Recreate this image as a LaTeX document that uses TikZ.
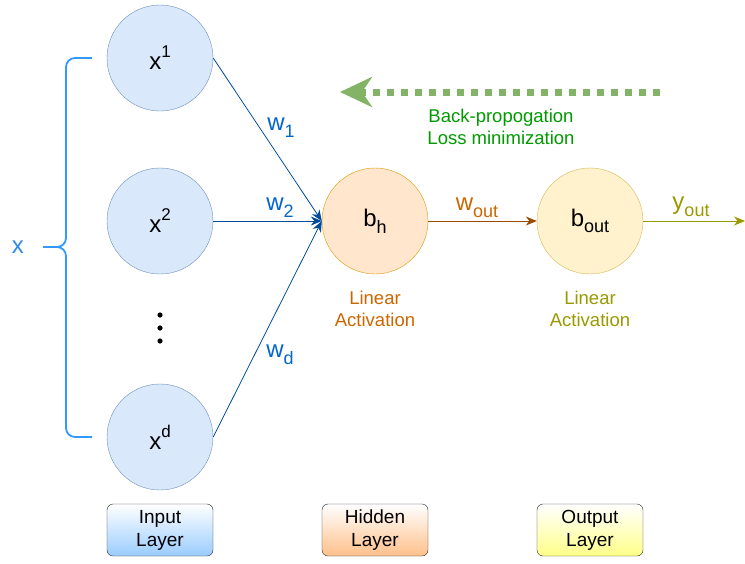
\documentclass[tikz,border=0pt]{standalone}
\usepackage{fontspec}
\setmainfont{Liberation Sans}
\usetikzlibrary{arrows.meta}
\usetikzlibrary{positioning}
\usepackage{xcolor}

\definecolor{inFill}{HTML}{DAE8FC}
\definecolor{inDraw}{HTML}{6C8EBF}
\definecolor{hidFill}{HTML}{FFE6CC}
\definecolor{hidDraw}{HTML}{D79B00}
\definecolor{outFill}{HTML}{FFF2CC}
\definecolor{outDraw}{HTML}{D6B656}
\definecolor{edgeBlue}{HTML}{004C99}
\definecolor{wBlue}{HTML}{0066CC}
\definecolor{braceBlue}{HTML}{3399FF}
\definecolor{hidText}{HTML}{CC6600}
\definecolor{hidEdge}{HTML}{994C00}
\definecolor{outText}{HTML}{999900}
\definecolor{bpGreen}{HTML}{82B366}
\definecolor{bpText}{HTML}{009900}
\definecolor{inBox}{HTML}{99CCFF}
\definecolor{hidBox}{HTML}{FFC08A}
\definecolor{outBox}{HTML}{FFFF88}

% sub- and superscripts at the size the picture uses
\newcommand{\lo}[1]{\raisebox{-0.28em}{\fontsize{18}{20}\selectfont #1}}
\newcommand{\hi}[1]{\raisebox{0.5em}{\fontsize{17}{20}\selectfont #1}}

\tikzset{
  neuron/.style={circle,minimum size=106pt,inner sep=0pt,font=\fontsize{24}{28}\selectfont},
  inneuron/.style={neuron,fill=inFill,draw=inDraw},
  hidneuron/.style={neuron,fill=hidFill,draw=hidDraw},
  outneuron/.style={neuron,fill=outFill,draw=outDraw},
  layerbox/.style={draw=black!85,rounded corners=6pt,minimum width=106pt,minimum height=52pt,
    align=center,font=\fontsize{19}{23}\selectfont},
  wlabel/.style={font=\fontsize{24}{28}\selectfont},
  actlabel/.style={align=center,font=\fontsize{18.5}{22.5}\selectfont},
}

\begin{document}
\begin{tikzpicture}[x=1pt,y=-1pt]
  \useasboundingbox (0,0) rectangle (745,563);

  % input layer
  \node[inneuron] (x1) at (160,58) {x\hi{1}};
  \node[inneuron] (x2) at (160,221) {x\hi{2}};
  \node[inneuron] (xd) at (160,437) {x\hi{d}};
  \foreach \y in {315,328,341}
    \fill (160,\y) circle (2.6pt);

  % hidden and output neurons
  \node[hidneuron] (bh) at (375,221) {b\lo{h}};
  \node[outneuron] (bout) at (590,221) {b\lo{out}};
  \coordinate (yend) at (745,221);

  % the brace round the inputs
  \coordinate (braceTip) at (43,247);
  \draw[braceBlue,line width=1.8pt,rounded corners=9pt] (92,58) -- (66,58) -- (66,247) -- (braceTip);
  \draw[braceBlue,line width=1.8pt,rounded corners=9pt] (92,437) -- (66,437) -- (66,247) -- (braceTip);
  \node[text=braceBlue!90!black,font=\fontsize{24}{28}\selectfont] (xlab) at (18,247) {x};

  % weights
  \draw[edgeBlue,thick,-{Stealth[length=11pt,width=9pt]}] (x1.east) -- (bh.west);
  \draw[edgeBlue,thick,-{Stealth[length=11pt,width=9pt]}] (x2.east) -- (bh.west);
  \draw[edgeBlue,thick,-{Stealth[length=11pt,width=9pt]}] (xd.east) -- (bh.west);
  \node[wlabel,text=wBlue] (w1) at (281,128) {w\lo{1}};
  \node[wlabel,text=wBlue] (w2) at (280,208) {w\lo{2}};
  \node[wlabel,text=wBlue] (wd) at (280,355) {w\lo{d}};

  \draw[hidEdge,thick,-{Stealth[length=11pt,width=9pt]}] (bh) -- (bout);
  \node[wlabel,text=hidText] (wout) at (477,208) {w\lo{out}};
  \draw[outText,thick,-{Stealth[length=11pt,width=9pt]}] (bout) -- (yend);
  \node[wlabel,text=outText] (yout) at (691,207) {y\lo{out}};

  \node[actlabel,text=hidText] (acth) at (375,309) {Linear\\Activation};
  \node[actlabel,text=outText] (acto) at (590,309) {Linear\\Activation};

  % back-propogation arrow
  \coordinate (bpStart) at (660,92);
  \coordinate (bpEnd) at (340,92);
  \draw[bpGreen,line width=7pt,dash pattern=on 7pt off 7pt,
    -{Stealth[length=32pt,width=30pt,inset=10pt,fill=bpGreen]}] (bpStart) -- (bpEnd);
  \node[actlabel,text=bpText] (bplab) at (501,127) {Back-propogation\\Loss minimization};

  % layer boxes
  \node[layerbox,top color=white,bottom color=inBox] (inbox) at (160,530) {Input\\Layer};
  \node[layerbox,top color=white,bottom color=hidBox] (hidbox) at (375,530) {Hidden\\Layer};
  \node[layerbox,top color=white,bottom color=outBox] (outbox) at (590,530) {Output\\Layer};
\end{tikzpicture}
\end{document}
